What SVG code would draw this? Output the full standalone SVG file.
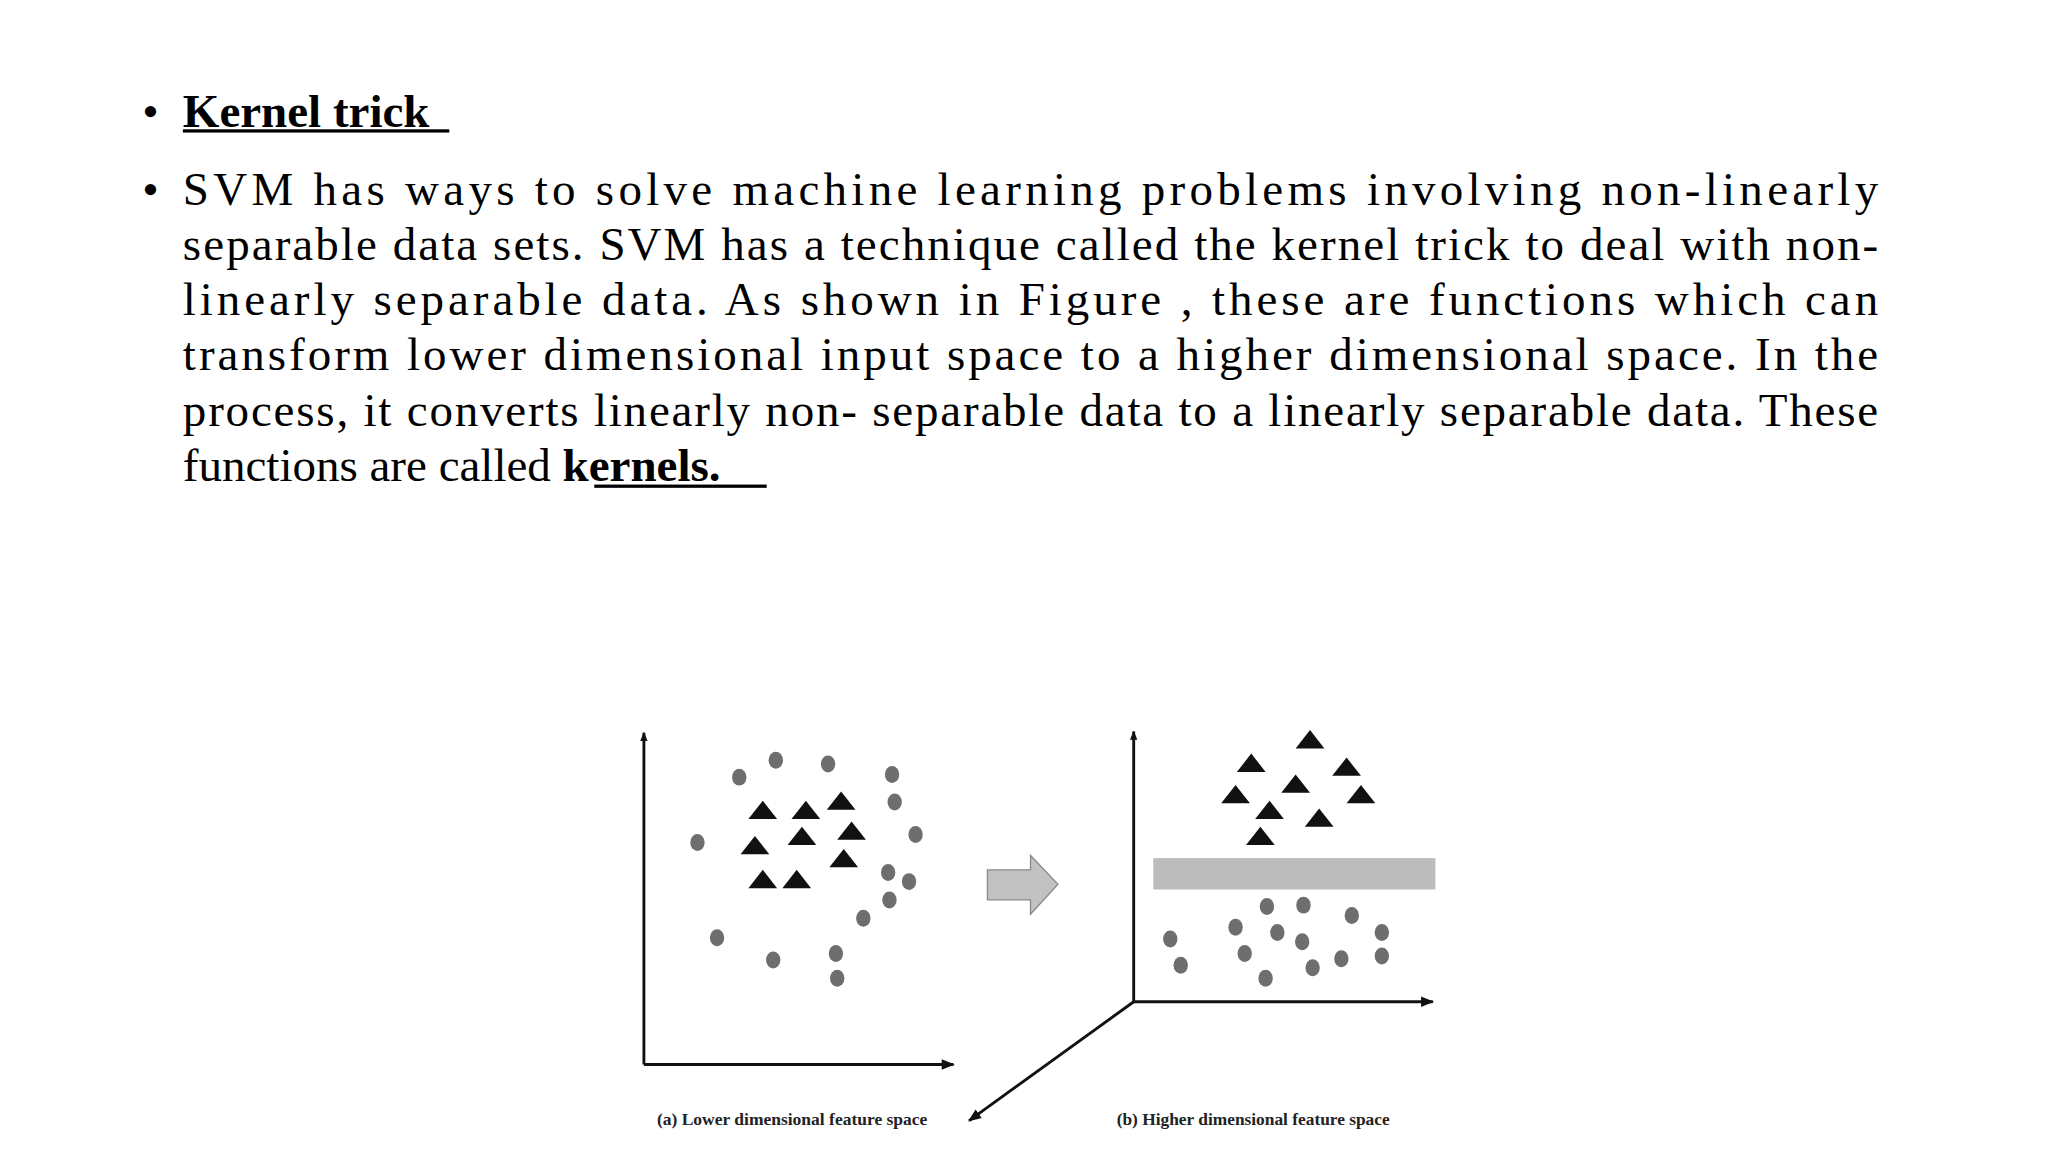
<svg xmlns="http://www.w3.org/2000/svg" width="2048" height="1152" viewBox="0 0 2048 1152">
<defs>
<style>
.t{font-family:"Liberation Serif","Times New Roman",serif;font-size:36px;fill:#000}
.b{font-weight:bold}
.c{fill:#6e6e6e}
.tri{fill:#111}
.ax{stroke:#111;stroke-width:2.2;fill:none}
.lab{font-family:"Liberation Serif",serif;font-size:12px;font-weight:bold;fill:#222}
</style>
<marker id="ah" viewBox="0 0 10 10" refX="9" refY="5" markerWidth="7" markerHeight="7" orient="auto" markerUnits="userSpaceOnUse"><path d="M0,1 L10,5 L0,9 z" fill="#111"/></marker>
<marker id="ah2" viewBox="0 0 10 10" refX="9" refY="5" markerWidth="14" markerHeight="10" orient="auto" markerUnits="userSpaceOnUse"><path d="M0,1 L10,5 L0,9 z" fill="#111"/></marker>
<path id="tr" d="M-11,7 L0,-7 L11,7 z"/>
</defs>
<rect width="2048" height="1152" fill="#fff"/>
<g transform="scale(1.3061)">
<g id="text">
<text class="t" x="109" y="97">•</text>
<text class="t b" x="140" y="97">Kernel trick</text>
<rect x="140" y="99" width="204" height="2.5"/>
<text class="t" x="109" y="157">•</text>
<text class="t" x="140" y="157" textLength="1298" lengthAdjust="spacing">SVM has ways to solve machine learning problems involving non-linearly</text>
<text class="t" x="140" y="199" textLength="1298" lengthAdjust="spacing">separable data sets. SVM has a technique called the kernel trick to deal with non-</text>
<text class="t" x="140" y="241" textLength="1298" lengthAdjust="spacing">linearly separable data. As shown in Figure , these are functions which can</text>
<text class="t" x="140" y="283" textLength="1298" lengthAdjust="spacing">transform lower dimensional input space to a higher dimensional space. In the</text>
<text class="t" x="140" y="326" textLength="1298" lengthAdjust="spacing">process, it converts linearly non- separable data to a linearly separable data. These</text>
<text class="t" x="140" y="368">functions are called <tspan class="b">kernels.</tspan></text>
<rect x="455" y="371" width="132" height="2.5"/>
</g>
<g id="connectors">
<path class="ax" d="M493,815 V561" marker-end="url(#ah)"/>
<path class="ax" d="M493,815 H730" marker-end="url(#ah2)"/>
<path class="ax" d="M868,767 V560" marker-end="url(#ah)"/>
<path class="ax" d="M868,767 H1097" marker-end="url(#ah2)"/>
<path class="ax" d="M868,767 L742,858" marker-end="url(#ah2)"/>
</g>
<g id="transform-arrow">
<path d="M756,666 H789 V655 L810,677 L789,700 V689 H756 z" fill="#c2c2c2" stroke="#8a8a8a" stroke-width="1"/>
</g>
<g id="band"><rect x="883" y="657" width="216" height="24" fill="#bcbcbc"/></g>
<g id="left-points">
<g class="c">
<ellipse cx="566" cy="595" rx="5.5" ry="6.5"/><ellipse cx="594" cy="582" rx="5.5" ry="6.5"/><ellipse cx="634" cy="585" rx="5.5" ry="6.5"/><ellipse cx="683" cy="593" rx="5.5" ry="6.5"/><ellipse cx="685" cy="614" rx="5.5" ry="6.5"/><ellipse cx="534" cy="645" rx="5.5" ry="6.5"/><ellipse cx="701" cy="639" rx="5.5" ry="6.5"/><ellipse cx="680" cy="668" rx="5.5" ry="6.5"/><ellipse cx="696" cy="675" rx="5.5" ry="6.5"/><ellipse cx="681" cy="689" rx="5.5" ry="6.5"/><ellipse cx="661" cy="703" rx="5.5" ry="6.5"/><ellipse cx="549" cy="718" rx="5.5" ry="6.5"/><ellipse cx="592" cy="735" rx="5.5" ry="6.5"/><ellipse cx="640" cy="730" rx="5.5" ry="6.5"/><ellipse cx="641" cy="749" rx="5.5" ry="6.5"/>
</g>
<g class="tri">
<use href="#tr" x="584" y="620"/><use href="#tr" x="617" y="620"/><use href="#tr" x="644" y="613"/><use href="#tr" x="578" y="647"/><use href="#tr" x="614" y="640"/><use href="#tr" x="652" y="636"/><use href="#tr" x="646" y="657"/><use href="#tr" x="584" y="673"/><use href="#tr" x="610" y="673"/>
</g>
</g>
<g id="right-points">
<g class="tri">
<use href="#tr" x="1003" y="566"/><use href="#tr" x="958" y="584"/><use href="#tr" x="1031" y="587"/><use href="#tr" x="992" y="600"/><use href="#tr" x="946" y="608"/><use href="#tr" x="1042" y="608"/><use href="#tr" x="972" y="620"/><use href="#tr" x="1010" y="626"/><use href="#tr" x="965" y="640"/>
</g>
<g class="c">
<ellipse cx="970" cy="694" rx="5.5" ry="6.5"/><ellipse cx="998" cy="693" rx="5.5" ry="6.5"/><ellipse cx="1035" cy="701" rx="5.5" ry="6.5"/><ellipse cx="896" cy="719" rx="5.5" ry="6.5"/><ellipse cx="946" cy="710" rx="5.5" ry="6.5"/><ellipse cx="978" cy="714" rx="5.5" ry="6.5"/><ellipse cx="997" cy="721" rx="5.5" ry="6.5"/><ellipse cx="1058" cy="714" rx="5.5" ry="6.5"/><ellipse cx="904" cy="739" rx="5.5" ry="6.5"/><ellipse cx="953" cy="730" rx="5.5" ry="6.5"/><ellipse cx="1027" cy="734" rx="5.5" ry="6.5"/><ellipse cx="1058" cy="732" rx="5.5" ry="6.5"/><ellipse cx="1005" cy="741" rx="5.5" ry="6.5"/><ellipse cx="969" cy="749" rx="5.5" ry="6.5"/>
</g>
</g>
<g id="labels">
<text class="lab" x="503" y="861" textLength="207" lengthAdjust="spacingAndGlyphs">(a) Lower dimensional feature space</text>
<text class="lab" x="855" y="861" textLength="209" lengthAdjust="spacingAndGlyphs">(b) Higher dimensional feature space</text>
</g>
</g>
</svg>
